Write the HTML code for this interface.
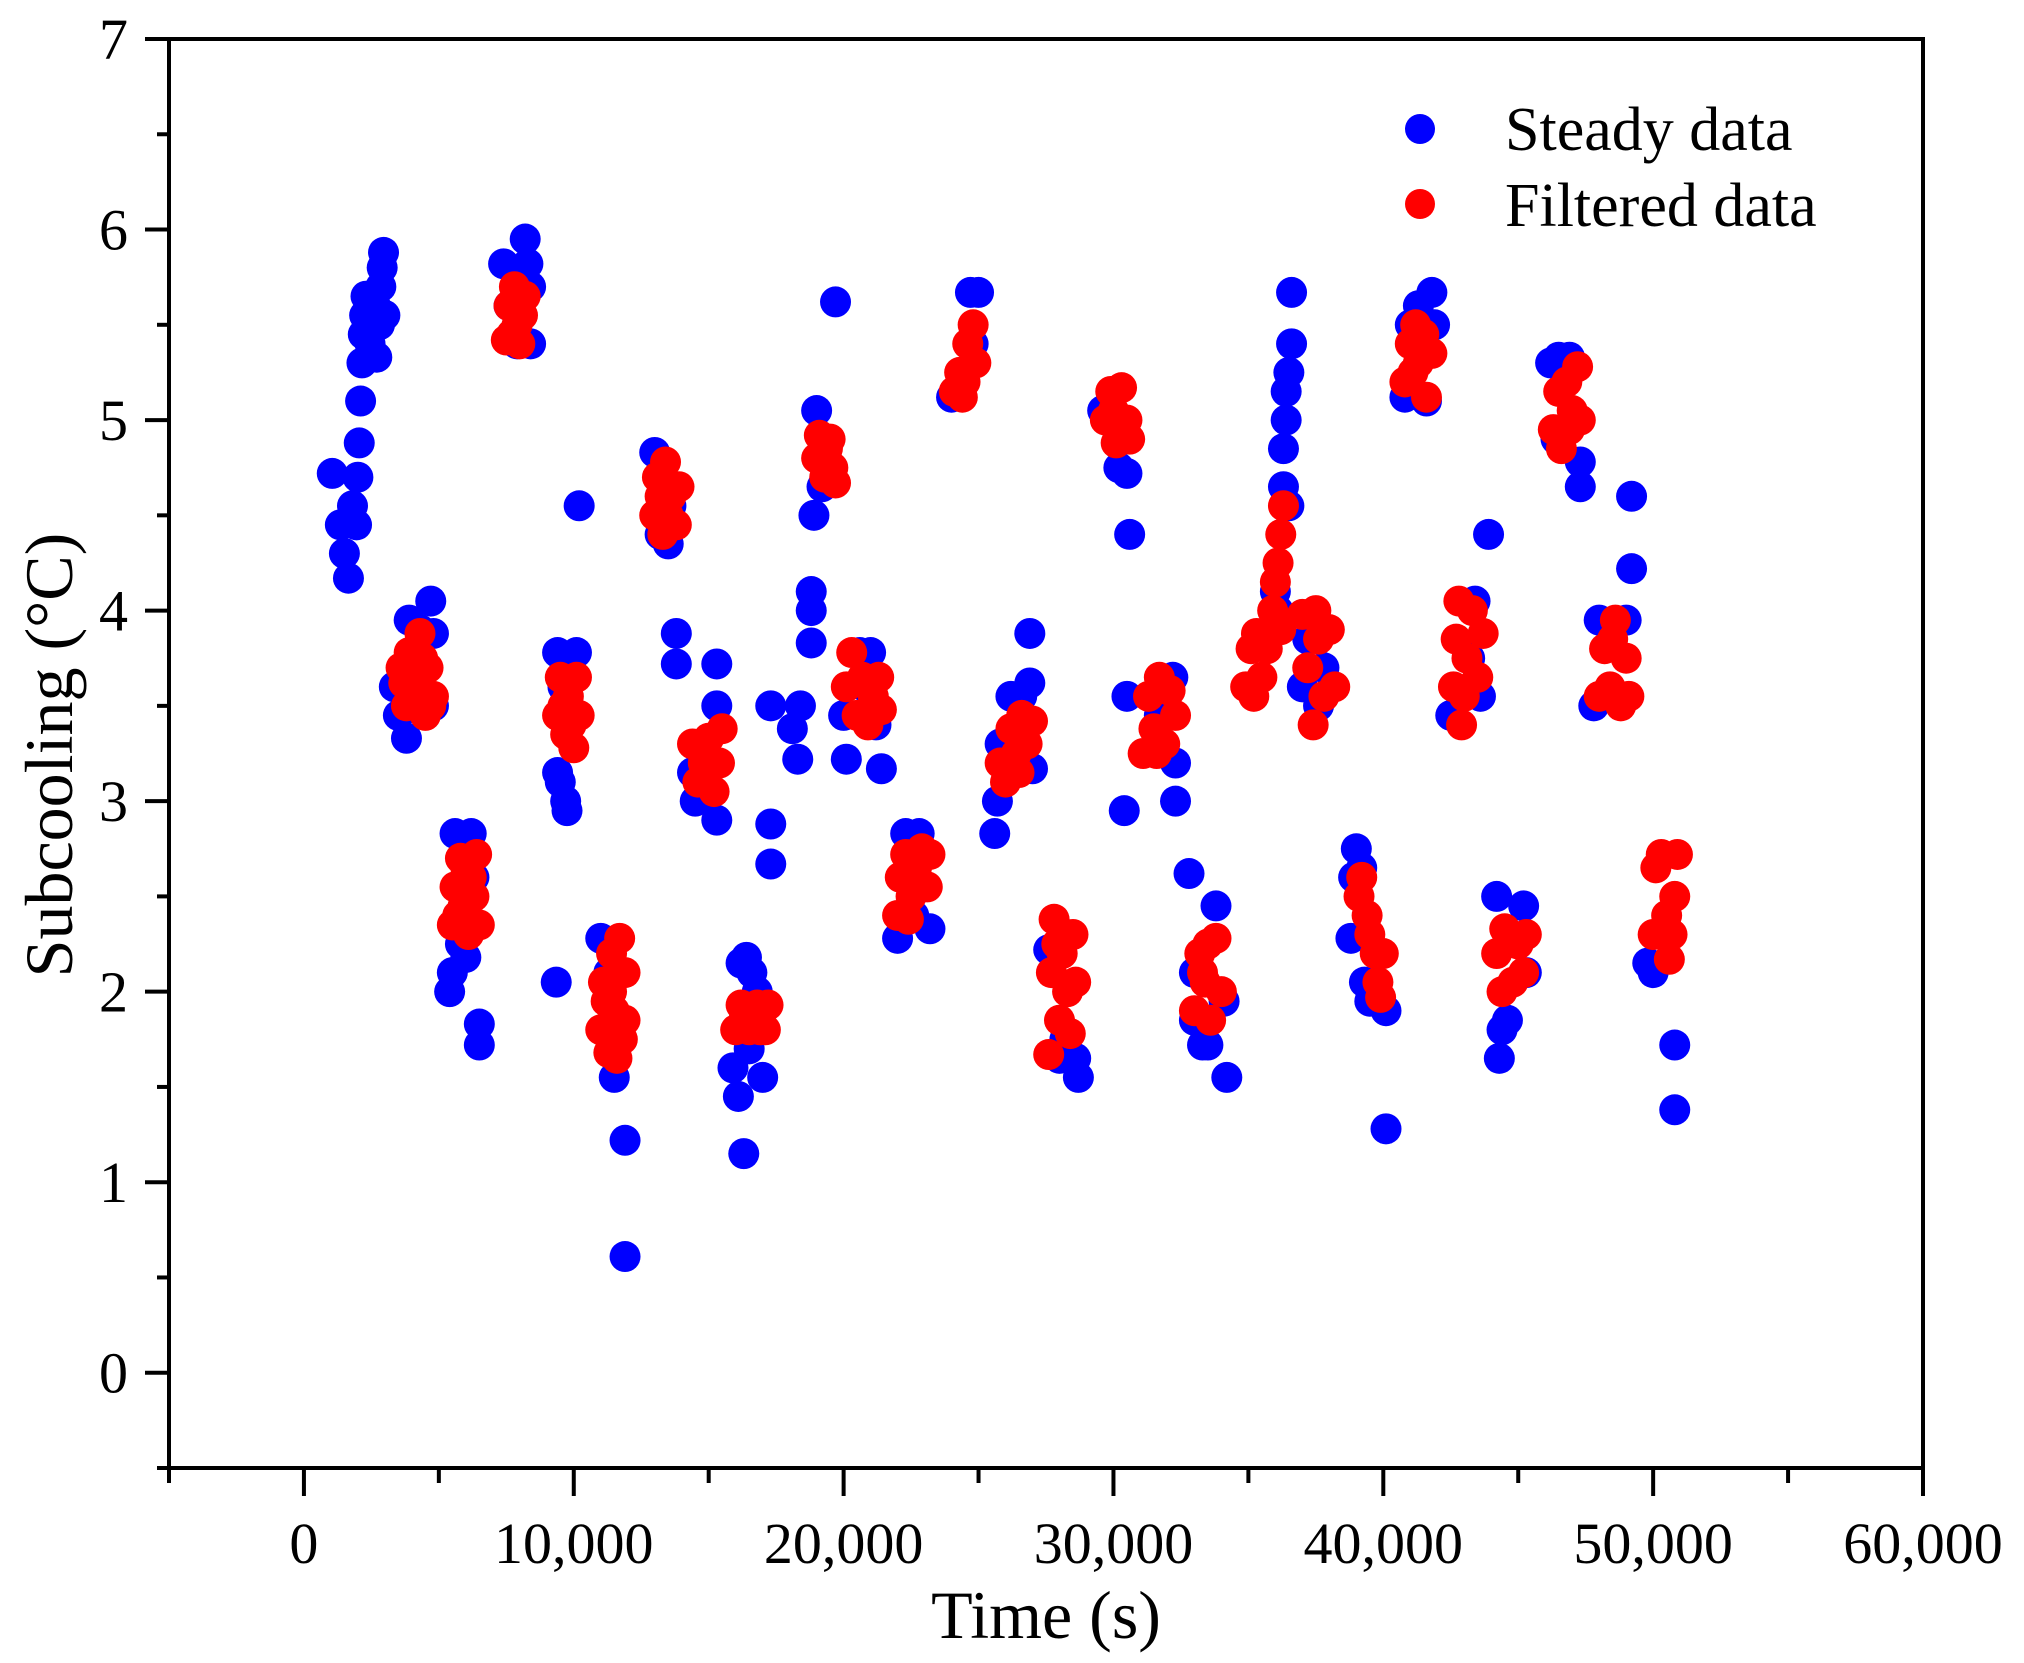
<!DOCTYPE html>
<html><head><meta charset="utf-8"><style>
html,body{margin:0;padding:0;background:#fff;}
svg{display:block;font-family:"Liberation Serif",serif;}
</style></head>
<body>
<svg id="chart" width="2024" height="1663" viewBox="0 0 2024 1663" xmlns="http://www.w3.org/2000/svg">
<g id="marks"></g>
<g id="axes"></g>
<g>
 <circle cx="1420" cy="129" r="15" fill="#0000ff"/>
 <text x="1505" y="150" font-size="62">Steady data</text>
 <circle cx="1420" cy="204" r="15" fill="#ff0000"/>
 <text x="1505" y="226" font-size="62">Filtered data</text>
</g>
<text x="1046" y="1638" font-size="68" text-anchor="middle">Time (s)</text>
<text transform="translate(72,755) rotate(-90)" font-size="68" text-anchor="middle">Subcooling (°C)</text>
</svg>
<script>
// time in thousands of seconds, subcooling in °C
const steadyT = [1.05,1.35,1.5,1.65,1.8,1.95,2.0,2.05,2.1,2.15,2.2,2.25,2.3,2.45,2.55,2.65,2.7,2.8,2.85,2.9,2.95,3.0,
3.35,3.5,3.8,3.9,4.3,4.7,4.8,4.8,
5.4,5.5,5.6,5.8,6.0,6.2,6.3,6.5,6.5,
7.4,7.6,7.9,8.2,8.3,8.4,8.4,
9.35,9.4,9.5,9.7,9.75,9.4,10.1,10.2,9.6,
11.0,11.5,11.9,11.9,11.3,11.6,
13.0,13.2,13.5,13.8,13.8,13.6,
14.5,14.4,15.3,15.3,15.3,15.0,
15.9,16.1,16.3,16.2,16.4,16.6,16.8,17.0,17.3,17.3,17.3,16.5,
18.4,18.3,18.1,18.8,18.8,18.8,18.9,19.0,19.7,19.2,
20.0,20.1,20.6,21.0,21.1,21.4,21.2,20.8,
22.0,22.3,22.8,23.2,22.6,
24.0,24.7,24.8,25.0,
25.6,25.7,25.8,26.2,26.6,26.9,26.9,27.0,
27.6,28.0,28.2,28.7,28.6,
29.6,30.2,30.5,30.6,30.4,30.5,
32.2,32.3,32.3,31.7,
32.8,33.0,33.0,33.3,33.5,33.8,34.1,34.2,
36.0,36.1,36.3,36.3,36.4,36.4,36.5,36.6,36.6,36.5,
37.0,37.2,37.6,37.8,
38.8,38.9,39.0,39.2,39.5,39.8,40.1,40.1,39.3,
40.8,41.0,41.3,41.6,41.8,41.9,
42.5,43.4,43.6,43.9,43.2,
44.2,44.3,44.4,44.6,45.2,45.3,
46.2,46.5,46.9,47.3,47.3,46.4,
47.8,48.0,49.0,49.2,49.2,
49.8,50.0,50.8,50.8];
const steadyV = [4.72,4.45,4.3,4.17,4.55,4.45,4.7,4.88,5.1,5.3,5.45,5.55,5.65,5.4,5.5,5.6,5.33,5.5,5.7,5.8,5.88,5.55,
3.6,3.45,3.33,3.95,3.9,4.05,3.88,3.5,
2.0,2.1,2.83,2.25,2.18,2.83,2.6,1.83,1.72,
5.82,5.6,5.4,5.95,5.82,5.7,5.4,
2.05,3.15,3.1,3.0,2.95,3.78,3.78,4.55,3.6,
2.28,1.55,1.22,0.61,2.1,1.75,
4.83,4.4,4.35,3.88,3.72,4.55,
3.0,3.15,3.72,3.5,2.9,3.05,
1.6,1.45,1.15,2.15,2.18,2.1,2.0,1.55,3.5,2.88,2.67,1.7,
3.5,3.22,3.38,3.83,4.0,4.1,4.5,5.05,5.62,4.65,
3.45,3.22,3.78,3.78,3.65,3.17,3.4,3.6,
2.28,2.83,2.83,2.33,2.4,
5.12,5.67,5.4,5.67,
2.83,3.0,3.3,3.55,3.55,3.62,3.88,3.17,
2.22,1.65,1.75,1.55,1.65,
5.05,4.75,4.72,4.4,2.95,3.55,
3.65,3.2,3.0,3.45,
2.62,2.1,1.85,1.72,1.72,2.45,1.95,1.55,
4.1,4.0,4.65,4.85,5.0,5.15,5.25,5.4,5.67,4.55,
3.6,3.85,3.5,3.7,
2.28,2.6,2.75,2.65,1.95,1.95,1.9,1.28,2.05,
5.12,5.5,5.6,5.1,5.67,5.5,
3.45,4.05,3.55,4.4,3.75,
2.5,1.65,1.8,1.85,2.45,2.1,
5.3,5.33,5.33,4.78,4.65,4.9,
3.5,3.95,3.95,4.22,4.6,
2.15,2.1,1.72,1.38];
const filteredT = [3.6,3.8,3.9,4.1,4.3,4.5,4.6,4.8,4.2,3.7,4.4,4.7,4.0,
5.5,5.6,5.8,5.9,6.1,6.2,6.4,6.5,6.0,5.7,6.3,6.0,
7.5,7.6,7.8,7.9,8.1,8.2,7.7,8.0,
9.4,9.5,9.7,9.8,10.0,10.1,10.2,9.6,9.9,
11.0,11.1,11.3,11.4,11.5,11.7,11.8,11.9,11.2,11.6,11.9,11.4,
13.0,13.1,13.3,13.4,13.6,13.8,13.9,13.2,13.5,
14.4,14.6,14.8,15.0,15.2,15.4,15.5,14.9,
16.0,16.2,16.5,16.8,17.1,17.2,16.6,16.3,16.9,
19.0,19.1,19.3,19.5,19.6,19.7,19.4,
20.1,20.3,20.5,20.7,20.9,21.1,21.3,21.4,
22.0,22.1,22.3,22.5,22.7,22.9,23.1,23.2,22.4,
24.1,24.3,24.4,24.6,24.8,24.9,24.5,
25.8,26.0,26.2,26.4,26.6,26.8,27.0,26.5,
27.6,27.7,27.8,28.0,28.1,28.3,28.4,28.5,28.6,27.9,
29.7,29.9,30.1,30.3,30.5,30.6,30.0,
31.1,31.3,31.5,31.7,31.9,32.1,32.3,31.6,
33.0,33.2,33.4,33.6,33.8,34.0,33.5,33.3,
34.9,35.1,35.3,35.5,35.7,35.9,36.0,36.1,36.2,36.3,36.2,35.2,
37.0,37.2,37.4,37.6,37.8,38.0,38.2,37.5,
39.1,39.2,39.4,39.5,39.7,39.8,40.0,39.9,
40.8,41.0,41.2,41.3,41.5,41.6,41.8,41.1,
42.6,42.7,42.8,42.9,43.1,43.3,43.5,43.7,43.0,
44.2,44.4,44.6,44.8,45.0,45.2,45.3,44.5,
46.3,46.5,46.6,46.8,47.0,47.2,47.3,46.9,
48.0,48.2,48.4,48.6,48.8,49.0,49.1,48.5,
50.0,50.1,50.3,50.5,50.6,50.8,50.9,50.7];
const filteredV = [3.7,3.5,3.78,3.6,3.88,3.45,3.7,3.55,3.5,3.62,3.75,3.5,3.65,
2.35,2.55,2.7,2.45,2.3,2.6,2.72,2.35,2.55,2.4,2.5,2.65,
5.42,5.6,5.7,5.5,5.55,5.65,5.45,5.4,
3.45,3.65,3.35,3.55,3.28,3.65,3.45,3.5,3.4,
1.8,2.05,1.68,2.2,1.9,2.28,1.75,2.1,1.95,1.65,1.85,2.0,
4.5,4.7,4.4,4.78,4.6,4.45,4.65,4.6,4.5,
3.3,3.1,3.2,3.33,3.05,3.2,3.38,3.15,
1.8,1.93,1.8,1.93,1.8,1.93,1.85,1.85,1.8,
4.8,4.92,4.7,4.9,4.75,4.67,4.85,
3.6,3.78,3.45,3.65,3.4,3.55,3.65,3.48,
2.4,2.6,2.72,2.5,2.65,2.75,2.55,2.72,2.38,
5.15,5.25,5.12,5.4,5.5,5.3,5.2,
3.2,3.1,3.38,3.25,3.45,3.3,3.42,3.15,
1.67,2.1,2.38,1.85,2.2,2.0,1.78,2.3,2.05,2.25,
5.0,5.15,4.88,5.17,5.0,4.9,5.05,
3.25,3.55,3.38,3.65,3.3,3.58,3.45,3.25,
1.9,2.2,2.05,1.85,2.28,2.0,2.25,2.1,
3.6,3.8,3.88,3.65,3.8,4.0,4.15,4.25,4.4,4.55,3.9,3.55,
3.98,3.7,3.4,3.85,3.55,3.9,3.6,4.0,
2.5,2.6,2.4,2.3,2.2,2.05,2.2,1.97,
5.2,5.4,5.5,5.3,5.45,5.12,5.35,5.25,
3.6,3.85,4.05,3.4,3.75,4.0,3.65,3.88,3.55,
2.2,2.0,2.3,2.05,2.25,2.1,2.3,2.33,
4.95,5.15,4.85,5.2,5.05,5.28,5.0,4.95,
3.55,3.8,3.6,3.95,3.5,3.75,3.55,3.85,
2.3,2.65,2.72,2.4,2.17,2.5,2.72,2.3];
const xTicks = [0,10000,20000,30000,40000,50000,60000];
const xTickLabels = ["0","10,000","20,000","30,000","40,000","50,000","60,000"];
const yTicks = [0,1,2,3,4,5,6,7];
const yTickLabels = ["0","1","2","3","4","5","6","7"];

const L=169,R=1923,T=39,B=1468;
const xMin=-5000,xMax=60000,yMin=-0.5,yMax=7;
const xs=t=>L+(t-xMin)/(xMax-xMin)*(R-L);
const ys=v=>B-(v-yMin)/(yMax-yMin)*(B-T);
const NS="http://www.w3.org/2000/svg";
function mk(tag,attrs,parent){const e=document.createElementNS(NS,tag);for(const k in attrs)e.setAttribute(k,attrs[k]);parent.appendChild(e);return e;}
const marks=document.getElementById('marks');
steadyT.forEach((t,i)=>{
  const c=mk('circle',{cx:xs(t*1000),cy:ys(steadyV[i]),r:15.5,fill:'#0000ff'},marks);
  
  
});
filteredT.forEach((t,i)=>{
  const c=mk('circle',{cx:xs(t*1000),cy:ys(filteredV[i]),r:15.5,fill:'#ff0000'},marks);
  
  
});
const ax=document.getElementById('axes');
const frame=mk('rect',{x:L,y:T,width:R-L,height:B-T,fill:'none',stroke:'#000','stroke-width':4},ax);


for(let t=-5000;t<=60000;t+=5000){
  const major=t%10000===0;
  const ln=mk('line',{x1:xs(t),x2:xs(t),y1:B,y2:B+(major?28:15),stroke:'#000','stroke-width':4},ax);
  
  
}
xTicks.forEach((t,i)=>{
  const tx=mk('text',{x:xs(t),y:1563,'font-size':58,'text-anchor':'middle'},ax);
  tx.textContent=xTickLabels[i];
  
  
});
for(let v=-0.5;v<=7;v+=0.5){
  const major=Math.abs(v-Math.round(v))<1e-9;
  const ln=mk('line',{x1:L,x2:L-(major?24:12),y1:ys(v),y2:ys(v),stroke:'#000','stroke-width':4},ax);
  
  
}
yTicks.forEach((v,i)=>{
  const tx=mk('text',{x:128,y:ys(v)+20,'font-size':58,'text-anchor':'end'},ax);
  tx.textContent=yTickLabels[i];
  
  
});
</script>
</body></html>
